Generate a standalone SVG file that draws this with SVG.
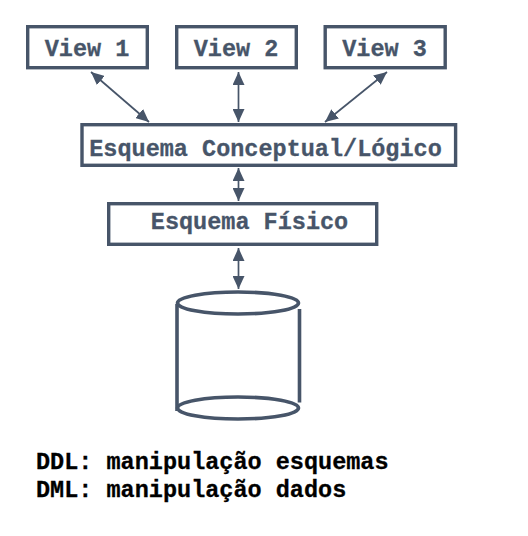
<svg xmlns="http://www.w3.org/2000/svg" width="528" height="536" viewBox="0 0 528 536">
<style>
.box{fill:#fff;stroke:#475569;stroke-width:3.4}
.t{font-family:"Liberation Mono",monospace;font-weight:700;font-size:23.5px;fill:#475569;stroke:#475569;stroke-width:.3}
.b{font-family:"Liberation Mono",monospace;font-weight:700;font-size:23.5px;fill:#000;stroke:#000;stroke-width:.3}
.c{fill:none;stroke:#475569;stroke-width:1.7;marker-start:url(#a);marker-end:url(#a)}
.cy{fill:none;stroke:#475569;stroke-width:3.6}
</style>
<defs><marker id="a" viewBox="0 0 13 12" refX="13" refY="6" markerWidth="13" markerHeight="12" markerUnits="userSpaceOnUse" orient="auto-start-reverse"><path d="M0 0L13 6L0 12Z" fill="#475569"/></marker></defs>
<rect width="528" height="536" fill="#fff"/>
<g id="connectors">
<path class="c" d="M91 72L149 122"/>
<path class="c" d="M238.500 72V122"/>
<path class="c" d="M387 72L325 122"/>
<path class="c" d="M238.500 168V201"/>
<path class="c" d="M238.500 248V289"/>
</g>
<g id="view1"><rect class="box" x="27.7" y="26.7" width="119.6" height="41"/><text class="t" x="87" y="56" text-anchor="middle">View 1</text></g>
<g id="view2"><rect class="box" x="176.7" y="26.7" width="119.6" height="41"/><text class="t" x="236" y="56" text-anchor="middle">View 2</text></g>
<g id="view3"><rect class="box" x="325.2" y="26.7" width="120" height="41"/><text class="t" x="384.500" y="56" text-anchor="middle">View 3</text></g>
<g id="conceptual"><rect class="box" x="82" y="124.7" width="373.6" height="40.6"/><text class="t" x="265.500" y="156" text-anchor="middle">Esquema Conceptual/Lógico</text></g>
<g id="fisico"><rect class="box" x="108.7" y="203.7" width="268" height="40.6"/><text class="t" x="249.500" y="229" text-anchor="middle">Esquema Físico</text></g>
<g id="database">
<ellipse class="cy" cx="238" cy="303" rx="60.5" ry="11"/>
<ellipse class="cy" cx="238" cy="408" rx="60.5" ry="11"/>
<path class="cy" d="M177 304V411M299.500 309V402.500"/>
</g>
<text class="b" x="36" y="469">DDL: manipulação esquemas</text>
<text class="b" x="36" y="497">DML: manipulação dados</text>
</svg>
